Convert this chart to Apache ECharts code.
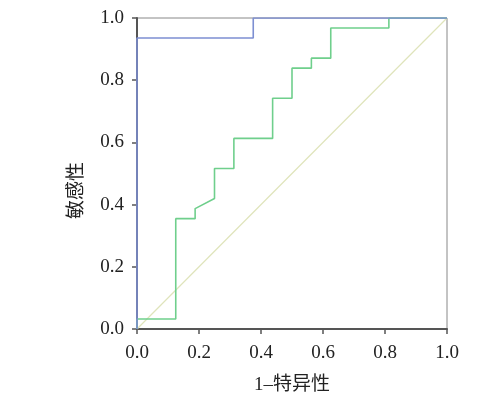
<!DOCTYPE html>
<html>
<head>
<meta charset="utf-8">
<script src="https://cdn.jsdelivr.net/npm/echarts@6/dist/echarts.min.js"></script>
<style>html,body{margin:0;padding:0;background:#fff}#c{width:494px;height:393px}</style>
</head>
<body>
<div id="c"></div>
<script>
// ROC curve data (x = 1 - specificity, y = sensitivity)
var blueX = [0, 0, 0.375, 0.375, 1];
var blueY = [0, 29/31, 29/31, 1, 1];
var greenX = [0, 0, 0.125, 0.125, 0.1875, 0.1875, 0.25, 0.25, 0.3125, 0.3125, 0.4375, 0.4375, 0.5, 0.5, 0.5625, 0.5625, 0.625, 0.625, 0.8125, 0.8125, 1];
var greenY = [0, 1/31, 1/31, 11/31, 11/31, 12/31, 13/31, 16/31, 16/31, 19/31, 19/31, 23/31, 23/31, 26/31, 26/31, 27/31, 27/31, 30/31, 30/31, 1, 1];
var refX = [0, 1];
var refY = [0, 1];
var ticks = [0, 0.2, 0.4, 0.6, 0.8, 1.0];
var xName = '1–特异性';
var yName = '敏感性';

function zip(a, b) { return a.map(function (v, i) { return [v, b[i]]; }); }

var chart = echarts.init(document.getElementById('c'), null, {renderer: 'canvas'});
var serif = '"Liberation Serif", "Noto Sans CJK SC", serif';
chart.setOption({
  animation: false,
  backgroundColor: '#fff',
  grid: {left: 137, right: 47, top: 18, bottom: 64, containLabel: false, outerBoundsMode: 'none',
         show: true, borderColor: '#888', borderWidth: 1, backgroundColor: 'transparent'},
  xAxis: {
    type: 'value', min: 0, max: 1, interval: 0.2,
    name: xName, nameLocation: 'middle', nameGap: 47,
    nameTextStyle: {color: '#222', fontSize: 19, fontFamily: serif},
    axisLine: {show: true, onZero: false, lineStyle: {color: '#555', width: 2}},
    axisTick: {show: true, length: 5, lineStyle: {color: '#555', width: 1.5}},
    axisLabel: {margin: 15, color: '#222', fontSize: 19, fontFamily: serif, formatter: function (v) { return v.toFixed(1); }},
    splitLine: {show: false}
  },
  yAxis: {
    type: 'value', min: 0, max: 1, interval: 0.2,
    name: yName, nameLocation: 'middle', nameGap: 50,
    nameTextStyle: {color: '#222', fontSize: 19, fontFamily: serif, padding: [0, 34, 0, 0]},
    axisLine: {show: true, onZero: false, lineStyle: {color: '#555', width: 2}},
    axisTick: {show: true, length: 5, lineStyle: {color: '#555', width: 1.5}},
    axisLabel: {margin: 13, color: '#222', fontSize: 19, fontFamily: serif, formatter: function (v) { return v.toFixed(1); }},
    splitLine: {show: false}
  },
  series: [
    {type: 'line', data: zip(refX, refY), symbol: 'none', lineStyle: {color: '#dfe4bb', width: 1.2}, z: 1},
    {type: 'line', data: zip(greenX, greenY), symbol: 'none', lineStyle: {color: '#6fcf8c', width: 1.6}, z: 2},
    {type: 'line', data: zip(blueX, blueY), symbol: 'none', lineStyle: {color: '#7d8fd2', width: 1.6}, z: 3}
  ]
});
</script>
</body>
</html>
